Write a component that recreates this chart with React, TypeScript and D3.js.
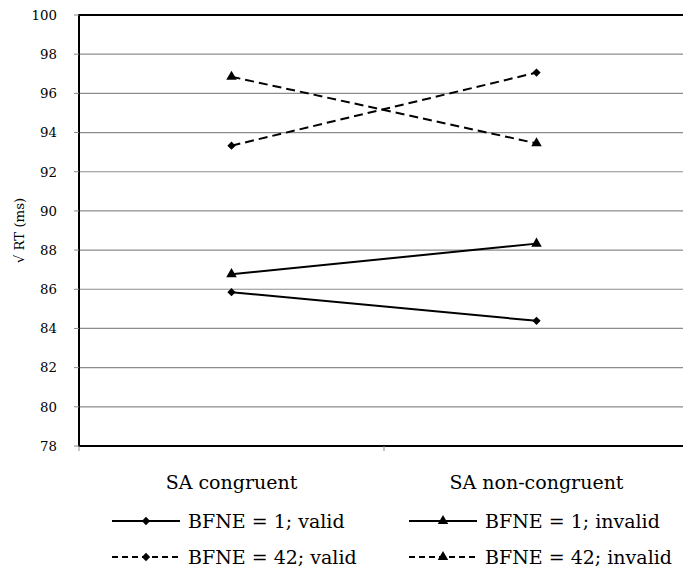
import React from "react";
import * as d3 from "d3";

const categories = ["SA congruent", "SA non-congruent"];
const seriesNames = ["BFNE = 1; valid", "BFNE = 1; invalid", "BFNE = 42; valid", "BFNE = 42; invalid"];
const valid1 = [85.85, 84.39];
const invalid1 = [86.77, 88.33];
const valid42 = [93.33, 97.06];
const invalid42 = [96.85, 93.45];
const yTicks = [78, 80, 82, 84, 86, 88, 90, 92, 94, 96, 98, 100];

const W = 683, H = 569;
const left = 79, top = 15, right = 689, bottom = 446;
const FONT = "'DejaVu Serif', serif";

export default function App() {
  const x = d3.scaleBand<string>().domain(categories).range([left, right]);
  const y = d3.scaleLinear().domain([78, 100]).range([bottom, top]);
  const line = d3.line<[number, number]>().x(d => d[0]).y(d => d[1]);

  const series = [
    { name: seriesNames[0], values: valid1, dashed: false, marker: "diamond" },
    { name: seriesNames[1], values: invalid1, dashed: false, marker: "triangle" },
    { name: seriesNames[2], values: valid42, dashed: true, marker: "diamond" },
    { name: seriesNames[3], values: invalid42, dashed: true, marker: "triangle" },
  ];

  const diamond = d3.symbol().type(d3.symbolDiamond2).size(44)() as string;
  const triangle = d3.symbol().type(d3.symbolTriangle).size(48)() as string;
  const markerPath = (m: string) => (m === "diamond" ? diamond : triangle);

  const cx = (c: string) => (x(c) as number) + x.bandwidth() / 2;

  const legendPos = [
    { lx: 112, ly: 521 },
    { lx: 409, ly: 521 },
    { lx: 112, ly: 557 },
    { lx: 409, ly: 557 },
  ];

  return (
    <svg width={W} height={H} style={{ position: "absolute", left: 0, top: 0, background: "#fff" }}>
      <rect width={W} height={H} fill="#fff" />
      {yTicks.filter(t => t !== 78 && t !== 100).map(t => (
        <line key={t} x1={left} x2={right} y1={y(t)} y2={y(t)} stroke="#8c8c8c" strokeWidth={1.2} />
      ))}
      <line x1={left} x2={right} y1={y(100)} y2={y(100)} stroke="#000" strokeWidth={2.2} />
      <line x1={left} x2={left} y1={top - 1} y2={bottom + 1} stroke="#000" strokeWidth={2} />
      {yTicks.map(t => (
        <g key={t}>
          <line x1={left - 5} x2={left} y1={y(t)} y2={y(t)} stroke="#8c8c8c" strokeWidth={1} />
          <text x={left - 22} y={y(t)} dy="0.36em" textAnchor="end" fontFamily={FONT} fontSize={13.3} fill="#000">
            {t}
          </text>
        </g>
      ))}
      <line x1={left} x2={right} y1={bottom} y2={bottom} stroke="#000" strokeWidth={2} />
      {[left, left + x.bandwidth(), right].map((v, i) => (
        <line key={i} x1={v} x2={v} y1={bottom} y2={bottom + 5} stroke="#8c8c8c" strokeWidth={1} />
      ))}
      {categories.map(c => (
        <text key={c} x={cx(c)} y={489} textAnchor="middle" fontFamily={FONT} fontSize={19} fill="#000">
          {c}
        </text>
      ))}
      <text transform={`translate(24,${(top + bottom) / 2}) rotate(-90)`} textAnchor="middle" fontFamily={FONT} fontSize={13.3} fill="#000">
        √ RT (ms)
      </text>
      {series.map(s => {
        const pts = categories.map((c, i) => [cx(c), y(s.values[i])] as [number, number]);
        return (
          <g key={s.name}>
            <path d={line(pts) as string} fill="none" stroke="#000" strokeWidth={2} strokeDasharray={s.dashed ? "9,5" : undefined} />
            {pts.map((p, i) => (
              <path key={i} d={markerPath(s.marker)} transform={`translate(${p[0]},${p[1]})`} fill="#000" />
            ))}
          </g>
        );
      })}
      {series.map((s, i) => {
        const { lx, ly } = legendPos[i];
        return (
          <g key={s.name}>
            <line x1={lx} x2={lx + 68} y1={ly} y2={ly} stroke="#000" strokeWidth={2} strokeDasharray={s.dashed ? "6,4" : undefined} />
            <path d={markerPath(s.marker)} transform={`translate(${lx + 34},${ly})`} fill="#000" />
            <text x={lx + 76} y={ly} dy="0.36em" fontFamily={FONT} fontSize={19} fill="#000">
              {s.name}
            </text>
          </g>
        );
      })}
    </svg>
  );
}
